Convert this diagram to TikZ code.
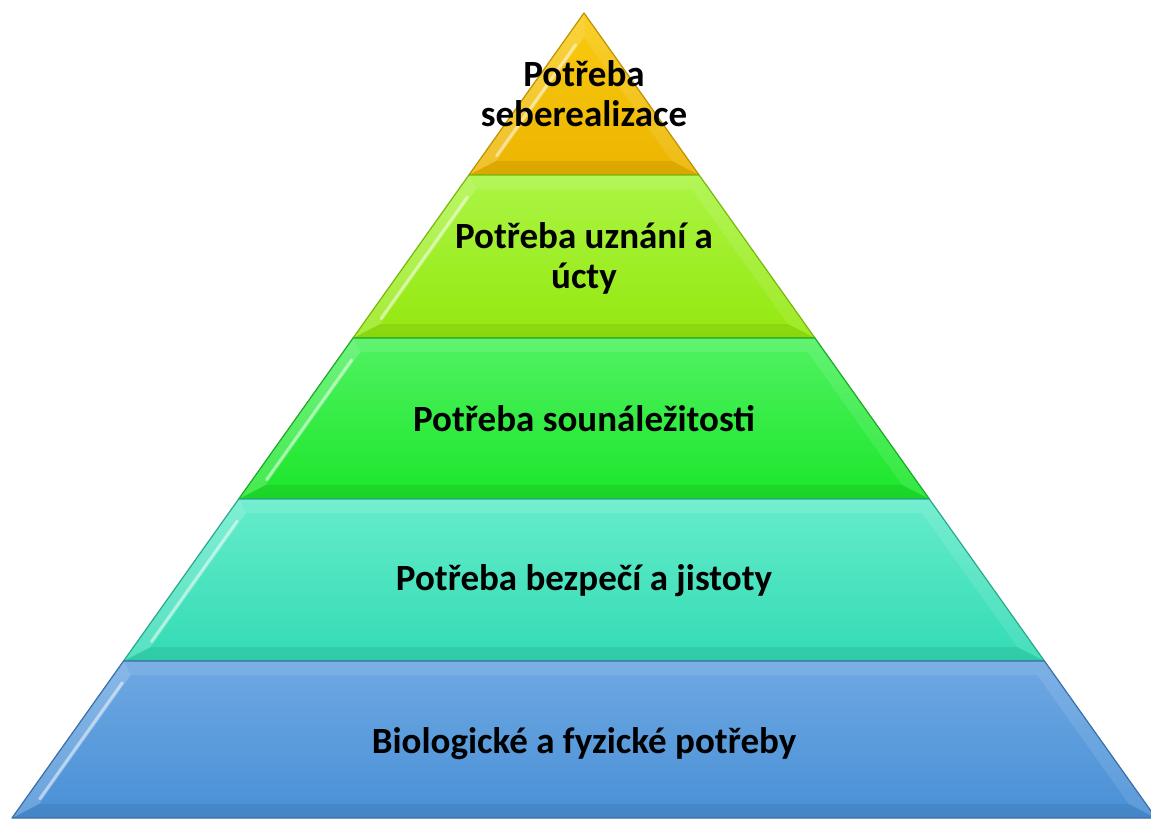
\documentclass[tikz,border=0pt]{standalone}
\usepackage{fontspec}
\setmainfont{Carlito}
\usetikzlibrary{calc}
\definecolor{goldT}{HTML}{F9CB10}
\definecolor{goldB}{HTML}{ECB400}
\definecolor{goldE}{HTML}{C09000}
\definecolor{limeT}{HTML}{ABF545}
\definecolor{limeB}{HTML}{94E80E}
\definecolor{limeE}{HTML}{78B80A}
\definecolor{grnT}{HTML}{50F262}
\definecolor{grnB}{HTML}{1CE62A}
\definecolor{grnE}{HTML}{1CA828}
\definecolor{turT}{HTML}{66ECCB}
\definecolor{turB}{HTML}{32DBB4}
\definecolor{turE}{HTML}{2AA88C}
\definecolor{bluT}{HTML}{6EA8E2}
\definecolor{bluB}{HTML}{4990D6}
\definecolor{bluE}{HTML}{3A6EA8}
\tikzset{
  lbl/.style={font=\bfseries\fontsize{37}{40}\selectfont, align=center, text=black, inner sep=0pt},
}
\newcommand\pyrlevel[5]{%
  \pgfmathsetmacro\ya{#1}%
  \pgfmathsetmacro\yb{#2}%
  \pgfmathsetmacro\xa{584-0.710559*(\ya-13)}%
  \pgfmathsetmacro\xb{584-0.710559*(\yb-13)}%
  \pgfmathsetmacro\yia{max(\ya+14,37.2)}%
  \pgfmathsetmacro\yib{\yb-14}%
  \pgfmathsetmacro\xia{min(584-0.710559*(\yia-13)+17.2,584)}%
  \pgfmathsetmacro\xib{584-0.710559*(\yib-13)+17.2}%
  \pgfmathsetmacro\xar{1168-\xa}%
  \pgfmathsetmacro\xbr{1168-\xb}%
  \pgfmathsetmacro\xiar{1168-\xia}%
  \pgfmathsetmacro\xibr{1168-\xib}%
  \shade[top color=#3, bottom color=#4] (\xa,\ya) -- (\xar,\ya) -- (\xbr,\yb) -- (\xb,\yb) -- cycle;
  \fill[white, opacity=0.10] (\xa,\ya) -- (\xar,\ya) -- (\xiar,\yia) -- (\xia,\yia) -- cycle;
  \fill[white, opacity=0.18] (\xa,\ya) -- (\xia,\yia) -- (\xib,\yib) -- (\xb,\yb) -- cycle;
  \fill[white, opacity=0.10] (\xar,\ya) -- (\xiar,\yia) -- (\xibr,\yib) -- (\xbr,\yb) -- cycle;
  \fill[black, opacity=0.07] (\xb,\yb) -- (\xib,\yib) -- (\xibr,\yib) -- (\xbr,\yb) -- cycle;
  \draw[white, opacity=0.5, line width=3pt, line cap=round] ($(\xia,\yia)!0.06!(\xib,\yib)+(-3,0)$) -- ($(\xia,\yia)!0.96!(\xib,\yib)+(-3,0)$);
  \draw[#5, line width=1.2pt, line join=round] (\xa,\ya) -- (\xar,\ya) -- (\xbr,\yb) -- (\xb,\yb) -- cycle;
}
\begin{document}
\begin{tikzpicture}[x=1pt, y=-1pt]
  \useasboundingbox (0,0) rectangle (1151,819);
  \clip (0,0) rectangle (1151,819);
  \fill[white] (0,0) rectangle (1151,819);
  \pyrlevel{13}{175}{goldT}{goldB}{goldE}
  \pyrlevel{175}{338}{limeT}{limeB}{limeE}
  \pyrlevel{338}{499}{grnT}{grnB}{grnE}
  \pyrlevel{499}{661}{turT}{turB}{turE}
  \pyrlevel{661}{818}{bluT}{bluB}{bluE}
  \node[lbl] (t1) at (584,94) {Potřeba\\seberealizace};
  \node[lbl] (t2) at (584,258) {Potřeba uznání a\\úcty};
  \node[lbl] (t3) at (584,419) {Potřeba sounáležitosti};
  \node[lbl] (t4) at (584,581) {Potřeba bezpečí a jistoty};
  \node[lbl] (t5) at (584,744) {Biologické a fyzické potřeby};
\end{tikzpicture}
\end{document}
